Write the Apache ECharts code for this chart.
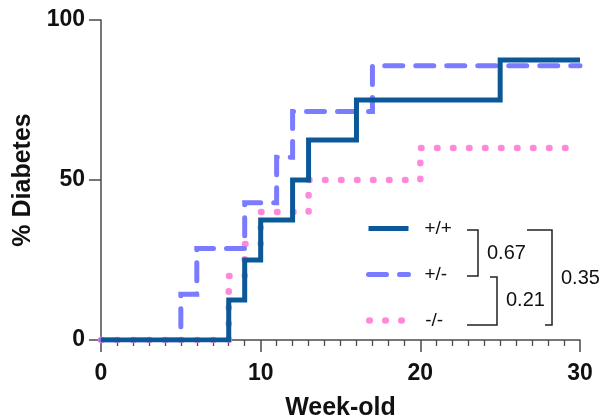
<!DOCTYPE html>
<html>
<head>
<meta charset="utf-8">
<script src="https://cdn.jsdelivr.net/npm/echarts@6/dist/echarts.min.js"></script>
<style>
html,body{margin:0;padding:0;background:#fff;}
#chart{width:605px;height:419px;}
</style>
</head>
<body>
<div id="chart"></div>
<script>
// Kaplan-Meier style cumulative incidence (% Diabetes) by week
const seriesNames = ['+/+', '+/-', '-/-'];
const weeksPP = [0, 8, 9, 10, 12, 13, 16, 25, 30];
const pctPP   = [0, 12.5, 25, 37.5, 50, 62.5, 75, 87.5, 87.5];
const weeksPM = [0, 5, 6, 9, 11, 12, 17, 30];
const pctPM   = [0, 14.3, 28.6, 42.9, 57.1, 71.4, 85.7, 85.7];
const weeksMM = [0, 8, 9, 10, 13, 20, 30];
const pctMM   = [0, 20, 30, 40, 50, 60, 60];
const pValues = ['0.67', '0.21', '0.35'];
const xTicks = [0, 10, 20, 30];
const yTicks = [0, 50, 100];

const pair = (xs, ys) => xs.map((x, i) => [x, ys[i]]);

const colPP = '#0b5898', colPM = '#7b7bff', colMM = '#ff88d8';
const stylePP = {color: colPP, width: 5, type: 'solid', cap: 'butt', join: 'miter'};
const stylePM = {color: colPM, width: 5, type: [18, 13], cap: 'round', join: 'miter'};
const styleMM = {color: colMM, width: 6.5, type: [0.5, 15.5], cap: 'round'};

const chart = echarts.init(document.getElementById('chart'), null, {renderer: 'canvas'});
const axisColor = '#4a4a4a';
const legendBase = {
  orient: 'vertical',
  left: 366,
  padding: 0,
  itemWidth: 40,
  itemHeight: 14,
  itemStyle: {opacity: 0},
  textStyle: {fontFamily: 'Liberation Sans', fontSize: 19, color: '#111', padding: [2, 0, 0, 11]}
};
const option = {
  animation: false,
  grid: {left: 101, right: 25, top: 20, bottom: 79, containLabel: false, outerBoundsMode: 'none'},
  xAxis: {
    type: 'value', min: 0, max: 30, interval: 10,
    name: 'Week-old', nameLocation: 'middle', nameGap: 56,
    nameTextStyle: {fontFamily: 'Liberation Sans', fontWeight: 'bold', fontSize: 25, color: '#111'},
    axisLine: {show: true, lineStyle: {color: axisColor, width: 1.5}},
    axisTick: {show: true, length: 12, lineStyle: {color: axisColor, width: 1.5}},
    minorTick: {show: true, splitNumber: 10, length: 6, lineStyle: {color: axisColor, width: 1.3}},
    axisLabel: {margin: 22, fontFamily: 'Liberation Sans', fontWeight: 'bold', fontSize: 23, color: '#111',
      formatter: v => xTicks.includes(v) ? String(v) : ''},
    splitLine: {show: false}
  },
  yAxis: {
    type: 'value', min: 0, max: 100, interval: 50,
    name: '% Diabetes', nameLocation: 'middle', nameGap: 63,
    nameTextStyle: {fontFamily: 'Liberation Sans', fontWeight: 'bold', fontSize: 25, color: '#111'},
    axisLine: {show: true, lineStyle: {color: axisColor, width: 1.5}},
    axisTick: {show: true, length: 12, lineStyle: {color: axisColor, width: 1.5}},
    axisLabel: {margin: 16, fontFamily: 'Liberation Sans', fontWeight: 'bold', fontSize: 23, color: '#111',
      formatter: v => yTicks.includes(v) ? String(v) : ''},
    splitLine: {show: false}
  },
  legend: [
    Object.assign({}, legendBase, {data: [seriesNames[0]], top: 219, lineStyle: stylePP}),
    Object.assign({}, legendBase, {data: [seriesNames[1]], top: 265, lineStyle: stylePM}),
    Object.assign({}, legendBase, {data: [seriesNames[2]], top: 311, lineStyle: styleMM})
  ],
  series: [
    {
      name: seriesNames[2], type: 'line', step: 'end', symbol: 'none', z: 2,
      data: pair(weeksMM, pctMM), lineStyle: styleMM, itemStyle: {color: colMM}
    },
    {
      name: seriesNames[1], type: 'line', step: 'end', symbol: 'none', z: 3,
      data: pair(weeksPM, pctPM), lineStyle: stylePM, itemStyle: {color: colPM}
    },
    {
      name: seriesNames[0], type: 'line', step: 'end', symbol: 'none', z: 4,
      data: pair(weeksPP, pctPP), lineStyle: stylePP, itemStyle: {color: colPP}
    }
  ],
  graphic: [
    {type: 'polyline', shape: {points: [[467, 230], [478, 230], [478, 276], [467, 276]]},
     style: {stroke: '#222', lineWidth: 1.5, fill: null}},
    {type: 'polyline', shape: {points: [[490, 277], [497, 277], [497, 325], [467, 325]]},
     style: {stroke: '#222', lineWidth: 1.5, fill: null}},
    {type: 'polyline', shape: {points: [[527, 230], [552, 230], [552, 325], [545, 325]]},
     style: {stroke: '#222', lineWidth: 1.5, fill: null}},
    {type: 'text', left: 487, top: 243, style: {text: pValues[0], font: '20px "Liberation Sans"', fill: '#111'}},
    {type: 'text', left: 506, top: 290, style: {text: pValues[1], font: '20px "Liberation Sans"', fill: '#111'}},
    {type: 'text', left: 561, top: 268, style: {text: pValues[2], font: '20px "Liberation Sans"', fill: '#111'}}
  ]
};
chart.setOption(option);
</script>
</body>
</html>
